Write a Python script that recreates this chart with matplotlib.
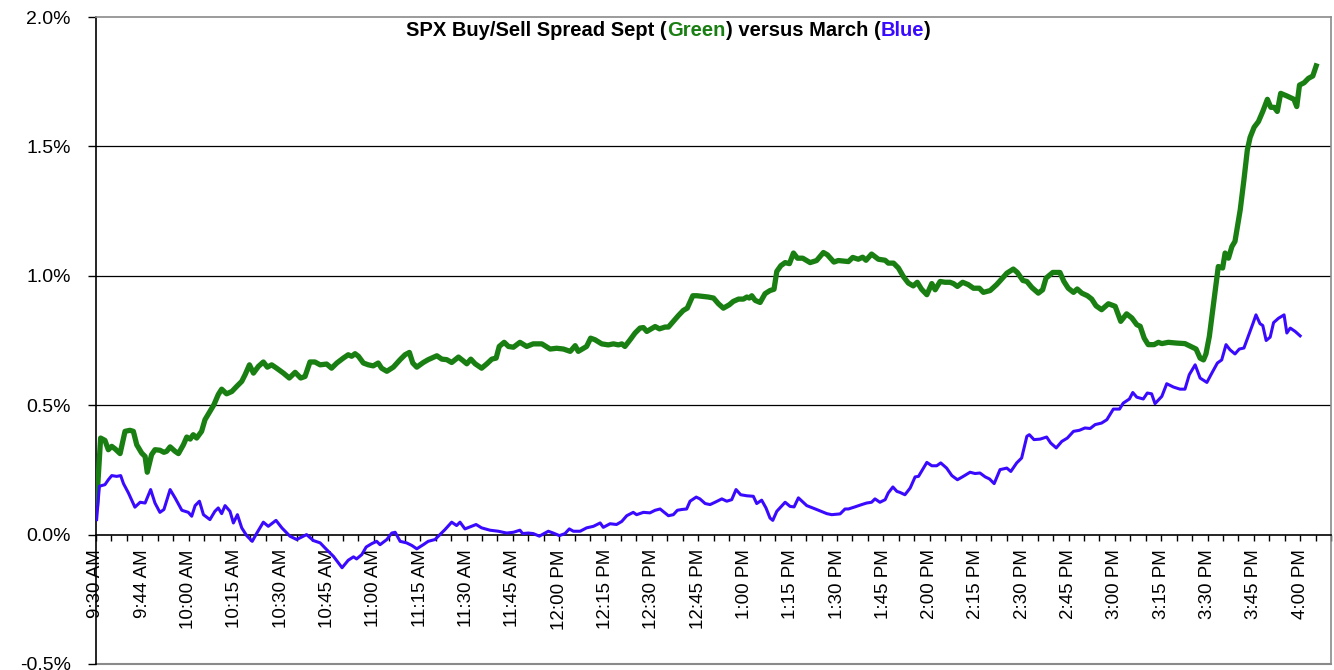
import numpy as np
import matplotlib
matplotlib.use("Agg")
import matplotlib.pyplot as plt
from matplotlib.ticker import FixedLocator, FixedFormatter

plt.rcParams['font.family'] = ['Liberation Sans', 'DejaVu Sans']

# minutes after 9:30 AM (category index) and spread in percent
green_min = [0.2, 1.5, 2.9, 4.0, 5.1, 6.2, 7.8, 9.4, 11.0, 12.1, 13.2, 14.8, 15.9, 16.6, 18.0, 19.1,
             20.7, 22.0, 22.9, 24.0, 25.6, 26.7, 28.3, 29.4, 30.5, 31.5, 32.6, 34.2, 35.3, 36.9, 38.2,
             39.6, 40.7, 42.3, 44.0, 45.6, 47.2, 48.3, 49.7, 51.0, 52.6, 54.2, 55.5, 56.9, 58.5, 60.7,
             62.6, 64.5, 66.3, 67.7, 69.3, 70.9, 72.6, 74.7, 76.3, 78.0, 80.1, 81.7, 82.8, 83.9, 85.0,
             86.6, 88.2, 89.8, 91.4, 92.5, 94.2, 96.3, 98.5, 100.1, 101.5, 102.6, 103.9, 106.0, 107.6,
             110.4, 112.0, 113.6, 115.2, 117.4, 119.0, 120.1, 121.4, 122.8, 124.9, 126.6, 128.2, 129.6,
             130.6, 132.2, 133.6, 135.2, 137.3, 139.5, 141.6, 144.4, 147.1, 149.2, 151.4, 153.6, 155.2,
             156.2, 157.9, 158.9, 160.2, 161.6, 163.8, 165.9, 167.6, 169.2, 170.3, 171.3, 173.0, 174.6,
             176.2, 177.3, 178.4, 179.4, 181.1, 182.5, 184.3, 185.4, 187.0, 188.6, 190.2, 191.5, 193.3,
             194.6, 196.7, 198.3, 200.0, 201.6, 203.2, 205.1, 206.4, 208.1, 209.7, 210.8, 211.6, 212.4,
             213.5, 215.1, 216.7, 218.3, 219.6, 220.5, 221.8, 223.2, 224.6, 225.9, 227.2, 228.9, 231.3,
             233.4, 235.6, 236.9, 239.0, 240.4, 243.7, 245.1, 246.9, 248.3, 249.4, 251.2, 253.4, 255.6,
             256.6, 258.3, 259.9, 261.5, 263.1, 264.7, 266.0, 267.4, 269.1, 270.7, 271.8, 273.4, 275.0,
             276.6, 277.7, 279.0, 280.7, 282.5, 284.2, 286.1, 287.4, 289.6, 291.7, 293.3, 295.0, 297.1,
             298.4, 300.2, 301.5, 303.1, 305.2, 306.6, 307.7, 309.9, 312.2, 313.5, 314.9, 316.6, 317.8,
             319.3, 321.1, 322.5, 323.9, 325.7, 327.9, 330.1, 331.9, 333.8, 335.5, 337.1, 338.2, 339.5,
             340.8, 342.7, 344.1, 345.2, 347.3, 350.0, 352.7, 354.9, 356.3, 357.6, 358.7, 359.5, 360.6,
             361.7, 362.8, 363.5, 364.9, 365.7, 366.8, 367.9, 368.9, 370.6, 371.8, 372.9, 373.8, 375.1,
             376.5, 377.9, 379.4, 380.5, 381.6, 382.6, 383.7, 385.7, 387.3, 388.0, 388.9, 389.8, 391.3,
             392.7, 394.1, 395.2]
green_val = [0.120, 0.373, 0.364, 0.328, 0.341, 0.331, 0.313, 0.399, 0.403, 0.399, 0.347, 0.315, 0.302,
             0.241, 0.309, 0.328, 0.326, 0.318, 0.322, 0.339, 0.322, 0.313, 0.347, 0.377, 0.369, 0.386,
             0.373, 0.399, 0.444, 0.476, 0.502, 0.541, 0.562, 0.544, 0.553, 0.573, 0.592, 0.618, 0.656,
             0.624, 0.650, 0.667, 0.647, 0.656, 0.643, 0.624, 0.605, 0.627, 0.605, 0.611, 0.667, 0.667,
             0.656, 0.659, 0.643, 0.663, 0.682, 0.695, 0.689, 0.699, 0.689, 0.663, 0.656, 0.652, 0.663,
             0.643, 0.631, 0.647, 0.676, 0.695, 0.704, 0.663, 0.647, 0.665, 0.676, 0.691, 0.678, 0.676,
             0.665, 0.686, 0.671, 0.660, 0.678, 0.660, 0.643, 0.660, 0.678, 0.682, 0.727, 0.743, 0.727,
             0.724, 0.743, 0.727, 0.737, 0.737, 0.717, 0.720, 0.717, 0.708, 0.730, 0.708, 0.720, 0.727,
             0.759, 0.753, 0.737, 0.733, 0.737, 0.733, 0.737, 0.727, 0.753, 0.779, 0.798, 0.800, 0.785,
             0.792, 0.804, 0.795, 0.802, 0.802, 0.824, 0.846, 0.866, 0.875, 0.923, 0.923, 0.920, 0.918,
             0.914, 0.892, 0.875, 0.888, 0.901, 0.910, 0.910, 0.918, 0.914, 0.923, 0.905, 0.897, 0.931,
             0.943, 0.948, 1.017, 1.039, 1.051, 1.047, 1.088, 1.068, 1.068, 1.051, 1.059, 1.090, 1.081,
             1.053, 1.059, 1.055, 1.071, 1.064, 1.072, 1.060, 1.084, 1.064, 1.060, 1.049, 1.049, 1.030,
             0.997, 0.972, 0.961, 0.975, 0.948, 0.927, 0.970, 0.946, 0.978, 0.975, 0.975, 0.970, 0.959,
             0.975, 0.966, 0.952, 0.952, 0.936, 0.943, 0.966, 0.987, 1.010, 1.026, 1.013, 0.982, 0.978,
             0.955, 0.933, 0.946, 0.991, 1.013, 1.013, 0.978, 0.952, 0.936, 0.949, 0.933, 0.923, 0.910,
             0.884, 0.869, 0.892, 0.882, 0.824, 0.853, 0.837, 0.811, 0.805, 0.759, 0.734, 0.734, 0.743,
             0.738, 0.743, 0.740, 0.738, 0.725, 0.717, 0.682, 0.675, 0.698, 0.766, 0.869, 0.972, 1.036,
             1.030, 1.088, 1.068, 1.113, 1.133, 1.255, 1.371, 1.486, 1.535, 1.574, 1.596, 1.635, 1.682,
             1.651, 1.651, 1.635, 1.705, 1.695, 1.686, 1.682, 1.654, 1.737, 1.746, 1.763, 1.772, 1.811]

blue_min = [0.2, 1.1, 2.9, 4.0, 5.1, 6.7, 8.0, 8.9, 10.5, 12.6, 14.3, 15.9, 17.7, 19.1, 20.7, 22.0,
            24.0, 25.6, 27.8, 29.9, 31.0, 32.1, 33.5, 34.8, 36.9, 38.5, 39.6, 40.7, 41.8, 43.4, 44.5,
            45.8, 47.2, 48.8, 50.6, 52.1, 54.2, 55.8, 58.3, 60.2, 62.8, 65.0, 68.2, 70.4, 72.6, 74.7,
            76.9, 79.7, 81.7, 83.4, 84.4, 86.1, 87.5, 89.3, 90.9, 92.0, 94.2, 95.8, 96.9, 98.5, 100.6,
            102.3, 103.9, 106.0, 107.6, 109.8, 111.4, 113.0, 115.2, 116.8, 117.9, 119.5, 121.2, 123.1,
            124.9, 127.6, 130.3, 133.0, 135.2, 137.3, 138.2, 140.0, 141.6, 143.6, 146.5, 148.1, 150.1,
            151.9, 153.3, 154.6, 156.8, 158.9, 161.1, 163.3, 164.3, 166.5, 168.6, 170.3, 171.9, 174.0,
            175.1, 177.3, 179.4, 181.1, 182.7, 185.4, 187.0, 188.3, 189.7, 191.3, 192.4, 194.4, 195.6,
            197.3, 198.9, 200.5, 202.7, 204.3, 205.9, 207.3, 208.8, 210.8, 212.9, 214.0, 215.6, 217.0,
            218.3, 219.2, 220.5, 223.2, 224.8, 226.1, 227.5, 230.2, 233.4, 236.7, 238.3, 241.0, 242.6,
            243.7, 245.8, 248.0, 249.6, 251.2, 252.3, 253.9, 255.6, 256.6, 258.1, 259.4, 260.4, 262.0,
            263.7, 265.3, 266.4, 268.0, 269.1, 270.7, 272.3, 273.6, 275.5, 277.2, 279.0, 280.9, 283.1,
            284.7, 286.3, 288.0, 289.4, 290.9, 292.8, 295.0, 296.3, 298.2, 299.8, 301.5, 302.3, 303.8,
            305.8, 307.9, 309.2, 311.0, 312.8, 314.6, 316.6, 318.5, 320.3, 322.0, 323.6, 325.7, 327.4,
            329.5, 331.5, 332.7, 334.7, 335.8, 337.1, 339.2, 340.5, 341.9, 343.0, 345.2, 346.8, 349.0,
            351.1, 352.7, 354.1, 356.0, 357.6, 359.8, 361.4, 363.2, 364.6, 366.0, 367.3, 368.9, 370.3,
            371.8, 373.2, 374.7, 375.7, 377.0, 377.9, 379.0, 380.3, 381.4, 383.0, 384.8, 385.7, 386.8,
            388.4, 390.0]
blue_val = [0.058, 0.187, 0.193, 0.212, 0.228, 0.225, 0.228, 0.197, 0.161, 0.106, 0.125, 0.122, 0.174,
            0.122, 0.086, 0.097, 0.174, 0.142, 0.094, 0.086, 0.071, 0.112, 0.129, 0.077, 0.058, 0.090,
            0.103, 0.081, 0.112, 0.090, 0.045, 0.077, 0.026, -0.004, -0.026, 0.006, 0.048, 0.032, 0.055,
            0.026, -0.006, -0.019, 0.000, -0.023, -0.032, -0.058, -0.084, -0.128, -0.099, -0.086, -0.094,
            -0.077, -0.048, -0.035, -0.026, -0.039, -0.019, 0.006, 0.009, -0.026, -0.032, -0.042, -0.055,
            -0.039, -0.026, -0.019, 0.000, 0.019, 0.048, 0.035, 0.048, 0.022, 0.030, 0.039, 0.026, 0.017,
            0.013, 0.006, 0.009, 0.017, 0.004, 0.006, 0.004, -0.006, 0.013, 0.006, -0.004, 0.004, 0.022,
            0.013, 0.013, 0.026, 0.032, 0.045, 0.028, 0.042, 0.039, 0.051, 0.073, 0.086, 0.077, 0.086,
            0.084, 0.094, 0.099, 0.073, 0.077, 0.094, 0.097, 0.099, 0.129, 0.145, 0.138, 0.120, 0.116,
            0.125, 0.138, 0.129, 0.135, 0.174, 0.154, 0.150, 0.148, 0.120, 0.133, 0.103, 0.064, 0.055,
            0.090, 0.125, 0.109, 0.107, 0.142, 0.112, 0.097, 0.081, 0.077, 0.080, 0.099, 0.099, 0.107,
            0.116, 0.122, 0.125, 0.138, 0.125, 0.135, 0.161, 0.184, 0.167, 0.163, 0.154, 0.180, 0.223,
            0.225, 0.257, 0.279, 0.266, 0.266, 0.277, 0.257, 0.228, 0.212, 0.225, 0.241, 0.236, 0.238,
            0.223, 0.215, 0.197, 0.251, 0.257, 0.244, 0.277, 0.296, 0.380, 0.386, 0.367, 0.369, 0.377,
            0.354, 0.335, 0.360, 0.373, 0.399, 0.403, 0.412, 0.410, 0.425, 0.431, 0.444, 0.485, 0.485,
            0.508, 0.524, 0.549, 0.531, 0.524, 0.547, 0.544, 0.506, 0.534, 0.583, 0.570, 0.562, 0.562,
            0.618, 0.656, 0.605, 0.588, 0.624, 0.663, 0.675, 0.734, 0.714, 0.698, 0.717, 0.721, 0.766,
            0.815, 0.849, 0.815, 0.808, 0.750, 0.763, 0.819, 0.836, 0.849, 0.779, 0.798, 0.785, 0.768]

time_labels = ['9:30 AM', '9:44 AM', '10:00 AM', '10:15 AM', '10:30 AM', '10:45 AM', '11:00 AM',
               '11:15 AM', '11:30 AM', '11:45 AM', '12:00 PM', '12:15 PM', '12:30 PM', '12:45 PM',
               '1:00 PM', '1:15 PM', '1:30 PM', '1:45 PM', '2:00 PM', '2:15 PM', '2:30 PM', '2:45 PM',
               '3:00 PM', '3:15 PM', '3:30 PM', '3:45 PM', '4:00 PM']
y_labels = ['-0.5%', '0.0%', '0.5%', '1.0%', '1.5%', '2.0%']

GREEN = '#1a7f12'
BLUE = '#3a0aff'

fig = plt.figure(figsize=(13.34, 6.70), dpi=100)
ax = fig.add_axes([96 / 1334, 6 / 670, 1235 / 1334, 647 / 670])

ax.plot(green_min, green_val, color=GREEN, lw=3.8, zorder=4, solid_joinstyle='round')
ax.plot(blue_min, blue_val, color=BLUE, lw=2.2, zorder=4, solid_joinstyle='round')

ax.set_xlim(0, 400)
ax.set_ylim(-0.5, 2.0)

# y axis
y_ticks = [-0.5, 0.0, 0.5, 1.0, 1.5, 2.0]
ax.yaxis.set_major_locator(FixedLocator(y_ticks))
ax.yaxis.set_major_formatter(FixedFormatter(y_labels))
ax.tick_params(axis='y', direction='out', length=6, width=1, labelsize=14, pad=12, colors='black')
for yv in [0.5, 1.0, 1.5]:
    ax.axhline(yv, color='black', lw=0.9, zorder=1)

# category axis crossing at 0
ax.spines['bottom'].set_position(('data', 0))
ax.spines['bottom'].set_linewidth(1.2)
ax.spines['left'].set_linewidth(1.2)
for s in ['top', 'right']:
    ax.spines[s].set_color('#8a8a8a')
    ax.spines[s].set_linewidth(1.2)
ax.axhline(-0.5, color='#8a8a8a', lw=1.5, zorder=1, clip_on=False)

label_pos = list(range(0, 391, 15))
ax.xaxis.set_major_locator(FixedLocator(label_pos))
ax.xaxis.set_major_formatter(FixedFormatter(time_labels))
ax.xaxis.set_minor_locator(FixedLocator([m for m in range(0, 401, 5) if m not in label_pos]))
ax.tick_params(axis='x', which='both', direction='out', length=4.5, width=1, colors='black')
ax.tick_params(axis='x', which='major', labelsize=13.5, pad=6, labelrotation=90)

# multicoloured title
pieces = [('SPX Buy/Sell Spread Sept (', 'black'), ('Green', GREEN), (') versus March (', 'black'),
          ('Blue', BLUE), (')', 'black')]
texts = []
first = fig.text(0, 1 - 31 / 670, pieces[0][0], color=pieces[0][1], fontsize=14.5,
                 fontweight='bold', ha='left', va='center')
texts.append(first)
prev = first
for txt, col in pieces[1:]:
    t = ax.annotate(txt, xy=(1, 0), xycoords=prev, ha='left', va='bottom', color=col,
                    fontsize=14.5, fontweight='bold', annotation_clip=False)
    texts.append(t)
    prev = t
fig.canvas.draw()
r = fig.canvas.get_renderer()
x0 = texts[0].get_window_extent(r).x0
x1 = texts[-1].get_window_extent(r).x1
first.set_x((668.5 - (x1 - x0) / 2) / 1334)

fig.savefig('out.png', dpi=100)
